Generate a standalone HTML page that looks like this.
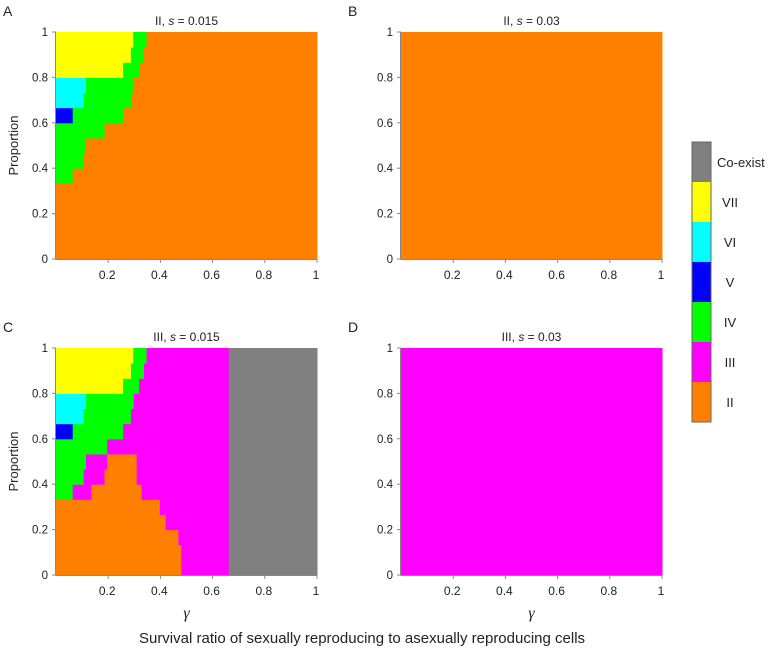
<!DOCTYPE html>
<html><head><meta charset="utf-8"><style>
body{margin:0;background:#fff;width:780px;height:650px;overflow:hidden}
svg{font-family:"Liberation Sans",sans-serif}
</style></head><body>
<svg id="fig" width="780" height="650"></svg>
<script>
const categories = ["II","III","IV","V","VI","VII","Co-exist"];
const catColors = {"II":"#ff8000","III":"#ff00ff","IV":"#00ff00","V":"#0000ff","VI":"#00ffff","VII":"#ffff00","Co-exist":"#808080"};
const yTicks = [0,0.2,0.4,0.6,0.8,1];
const xTicks = [0.2,0.4,0.6,0.8,1];
const nRows = 15;
// rows from bottom (proportion i/15..(i+1)/15): segments [category, gamma end]
const panelA = [
 [["II",1]],[["II",1]],[["II",1]],[["II",1]],[["II",1]],
 [["IV",0.064],["II",1]],
 [["IV",0.106],["II",1]],
 [["IV",0.115],["II",1]],
 [["IV",0.186],["II",1]],
 [["V",0.064],["IV",0.257],["II",1]],
 [["VI",0.106],["IV",0.287],["II",1]],
 [["VI",0.115],["IV",0.298],["II",1]],
 [["VII",0.257],["IV",0.318],["II",1]],
 [["VII",0.287],["IV",0.337],["II",1]],
 [["VII",0.296],["IV",0.347],["II",1]]
];
const panelB = Array.from({length:15},()=>[["II",1]]);
const panelC = [
 [["II",0.48],["III",0.662],["Co-exist",1]],
 [["II",0.48],["III",0.662],["Co-exist",1]],
 [["II",0.469],["III",0.662],["Co-exist",1]],
 [["II",0.42],["III",0.662],["Co-exist",1]],
 [["II",0.398],["III",0.662],["Co-exist",1]],
 [["IV",0.064],["III",0.136],["II",0.328],["III",0.662],["Co-exist",1]],
 [["IV",0.106],["III",0.186],["II",0.309],["III",0.662],["Co-exist",1]],
 [["IV",0.115],["III",0.196],["II",0.309],["III",0.662],["Co-exist",1]],
 [["IV",0.196],["III",0.662],["Co-exist",1]],
 [["V",0.064],["IV",0.257],["III",0.662],["Co-exist",1]],
 [["VI",0.106],["IV",0.287],["III",0.662],["Co-exist",1]],
 [["VI",0.115],["IV",0.298],["III",0.662],["Co-exist",1]],
 [["VII",0.257],["IV",0.318],["III",0.662],["Co-exist",1]],
 [["VII",0.287],["IV",0.337],["III",0.662],["Co-exist",1]],
 [["VII",0.296],["IV",0.347],["III",0.662],["Co-exist",1]]
];
const panelD = Array.from({length:15},()=>[["III",1]]);
const legendOrder = ["Co-exist","VII","VI","V","IV","III","II"];

const NS="http://www.w3.org/2000/svg";
const svg=document.getElementById('fig');
function mk(tag,attrs,parent,name,text){
  const e=document.createElementNS(NS,tag);
  for(const k in attrs)e.setAttribute(k,attrs[k]);
  
  
  if(text!==undefined)e.textContent=text;
  (parent||svg).appendChild(e);return e;
}
const panels=[
 {data:panelA,x0:56,y0:32,pre:"II, ",post:" = 0.015",letter:"A",ylab:true,xlab:false},
 {data:panelB,x0:401,y0:32,pre:"II, ",post:" = 0.03",letter:"B",ylab:false,xlab:false},
 {data:panelC,x0:56,y0:348,pre:"III, ",post:" = 0.015",letter:"C",ylab:true,xlab:true},
 {data:panelD,x0:401,y0:348,pre:"III, ",post:" = 0.03",letter:"D",ylab:false,xlab:true}
];
const W=261,H=227;
panels.forEach(p=>{
  const g=mk('g',{},svg,'panel-'+p.letter.toLowerCase());
  const xs=v=>p.x0+v*W, ys=v=>p.y0+H-v*H;
  p.data.forEach((row,i)=>{
    let start=0;
    row.forEach(seg=>{
      const x1=xs(start),x2=xs(seg[1]);
      mk('rect',{x:x1,y:ys((i+1)/nRows),width:Math.max(0,x2-x1)+0.5,height:H/nRows+0.5,fill:catColors[seg[0]]},g,'cell-'+seg[0].toLowerCase());
      start=seg[1];
    });
  });
  mk('line',{x1:p.x0-0.5,y1:p.y0,x2:p.x0-0.5,y2:p.y0+H+0.5,stroke:'#888','stroke-width':1},g,'y-axis');
  mk('line',{x1:p.x0-0.5,y1:p.y0+H+0.5,x2:p.x0+W,y2:p.y0+H+0.5,stroke:'#888','stroke-width':1},g,'x-axis');
  yTicks.forEach(t=>{
    mk('line',{x1:p.x0-4,y1:ys(t),x2:p.x0,y2:ys(t),stroke:'#888'},g,'y-tick');
    mk('text',{x:p.x0-8,y:ys(t)+4,'text-anchor':'end','font-size':11.5,fill:'#222'},g,'y-tick-label',String(t));
  });
  xTicks.forEach(t=>{
    mk('line',{x1:xs(t),y1:p.y0+H,x2:xs(t),y2:p.y0+H+4,stroke:'#888'},g,'x-tick');
    mk('text',{x:xs(t)-1,y:p.y0+H+20,'text-anchor':'middle','font-size':12,fill:'#222'},g,'x-tick-label',String(t));
  });
  const tt=mk('text',{x:p.x0+W/2,y:p.y0-7,'text-anchor':'middle','font-size':12,fill:'#222'},g,'panel-title');
  const s1=document.createElementNS(NS,'tspan');s1.textContent=p.pre;tt.appendChild(s1);
  const s2=document.createElementNS(NS,'tspan');s2.setAttribute('font-style','italic');s2.textContent='s';tt.appendChild(s2);
  const s3=document.createElementNS(NS,'tspan');s3.textContent=p.post;tt.appendChild(s3);
  mk('text',{x:p.x0-53,y:p.y0-16,'font-size':14,fill:'#222'},g,'panel-letter',p.letter);
  if(p.ylab) mk('text',{x:0,y:0,transform:`translate(${p.x0-38},${p.y0+H/2}) rotate(-90)`,'text-anchor':'middle','font-size':13,fill:'#222'},g,'y-axis-title','Proportion');
  if(p.xlab) mk('text',{x:p.x0+W/2,y:p.y0+H+43,'text-anchor':'middle','font-size':16,'font-style':'italic','font-family':'Liberation Serif, serif',fill:'#222'},g,'x-axis-title','γ');
});
mk('text',{x:362,y:643,'text-anchor':'middle','font-size':15,fill:'#222'},svg,'figure-x-title','Survival ratio of sexually reproducing to asexually reproducing cells');
const lg=mk('g',{},svg,'legend');
legendOrder.forEach((c,i)=>{
  mk('rect',{x:692,y:142+i*40,width:19,height:40,fill:catColors[c]},lg,'legend-swatch-'+c.toLowerCase());
  mk('text',{x:c==='Co-exist'?717:730,y:142+i*40+25,'text-anchor':c==='Co-exist'?'start':'middle','font-size':13,fill:'#222'},lg,'legend-label',c);
});
mk('rect',{x:692,y:142,width:19,height:280,fill:'none',stroke:'#666','stroke-width':1},lg,'legend-border');
</script>
</body></html>
